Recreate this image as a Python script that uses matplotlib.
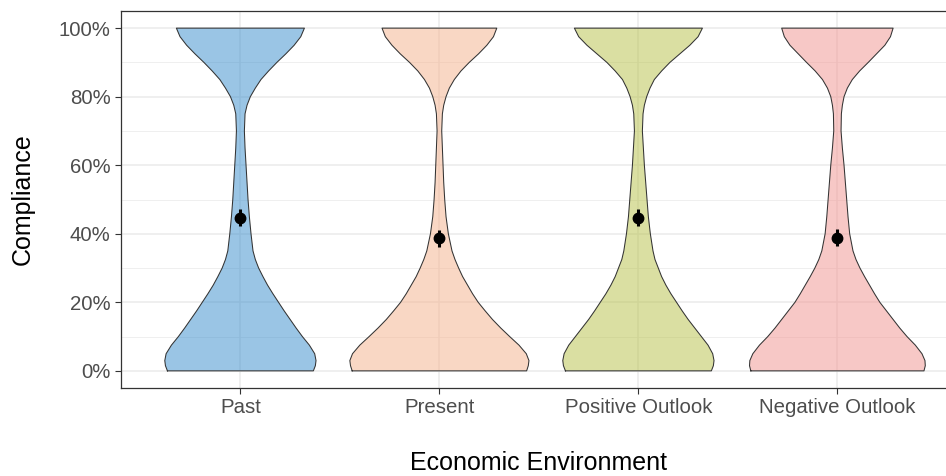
import numpy as np
import matplotlib
matplotlib.use("Agg")
import matplotlib.pyplot as plt
from matplotlib.ticker import MultipleLocator, FuncFormatter

plt.rcParams['font.family'] = ['Liberation Sans', 'DejaVu Sans']

# ---- data ----
categories = ["Past", "Present", "Positive Outlook", "Negative Outlook"]
levels = [0, 1.5, 3, 5, 7.5, 10, 12.5, 15, 17.5, 20, 22.5, 25, 27.5, 30, 32.5, 35,
          40, 45, 50, 55, 60, 65, 70, 75, 77.5, 80, 82.5, 85, 87.5, 90, 92.5, 95, 97.5, 100]
dens_past = [220, 226, 228, 224, 208, 187, 168, 150, 132, 115, 98, 82, 68, 55, 45, 38,
             32, 27, 23, 20, 17, 14, 12, 14, 20, 30, 45, 62, 85, 110, 137, 162, 182, 193]
dens_present = [263, 268, 270, 262, 240, 212, 185, 160, 138, 117, 100, 85, 70, 58, 47, 38,
                27, 20, 16, 13, 11, 9, 7, 9, 13, 20, 30, 45, 65, 90, 118, 143, 163, 173]
dens_positive = [220, 226, 228, 224, 210, 190, 170, 150, 132, 115, 98, 83, 70, 60, 50, 44,
                 36, 30, 26, 22, 18, 15, 12, 14, 18, 25, 35, 48, 70, 95, 125, 155, 180, 193]
dens_negative = [261, 265, 264, 255, 235, 210, 188, 168, 148, 128, 112, 97, 82, 68, 56, 47,
                 37, 32, 28, 24, 20, 15, 11, 12, 15, 20, 30, 45, 67, 93, 118, 143, 160, 168]
means = [44.7, 38.7, 44.7, 38.8]
ci = [2.4, 2.5, 2.4, 2.5]
yticks = [0, 20, 40, 60, 80, 100]

colors = ["#378DCD", "#F5B18B", "#B7C147", "#F1938F"]
densities = [dens_past, dens_present, dens_positive, dens_negative]

# ---- figure ----
W, H = 946, 476
fig = plt.figure(figsize=(W / 100, H / 100), dpi=100)
unit = 199.0  # px per category
ax_left = 121 / W
ax_w = 4.2 * unit / W
ax_bottom = (H - 388) / H
ax_h = 377 / H
ax = fig.add_axes([ax_left, ax_bottom, ax_w, ax_h])

ax.set_xlim(0.4, 4.6)
ax.set_ylim(-5, 105)

grid_c = "#EBEBEB"
ax.set_axisbelow(True)
ax.yaxis.set_minor_locator(MultipleLocator(10))
ax.set_yticks(yticks)
ax.set_xticks(range(1, len(categories) + 1))
ax.set_xticklabels(categories)
ax.yaxis.set_major_formatter(FuncFormatter(lambda v, p: f"{int(v)}%"))
ax.grid(which="major", color=grid_c, lw=1.1)
ax.grid(which="minor", axis="y", color=grid_c, lw=0.55)
ax.tick_params(which="minor", length=0)
ax.tick_params(which="major", length=4, width=0.8, color="#333333",
               labelcolor="#4D4D4D", labelsize=14.7, pad=3.5)
for s in ax.spines.values():
    s.set_color("#333333")
    s.set_linewidth(0.9)

ymax_all = max(max(d) for d in densities)
scale = 0.45 / ymax_all
lv = np.array(levels, dtype=float)
for i, (d, c) in enumerate(zip(densities, colors)):
    x0 = i + 1
    hw = np.array(d, dtype=float) * scale
    xs = np.concatenate([x0 - hw, (x0 + hw)[::-1]])
    ys = np.concatenate([lv, lv[::-1]])
    ax.fill(xs, ys, facecolor=c, alpha=0.5, edgecolor="none", zorder=2)
    ax.plot(np.append(xs, xs[0]), np.append(ys, ys[0]), color="#333333", lw=0.75, zorder=3)

xpos = np.arange(1, len(categories) + 1)
ax.errorbar(xpos, means, yerr=ci, fmt="o", color="black", ms=7.5,
            elinewidth=2.2, capsize=0, zorder=4)

ax.set_ylabel("Compliance", fontsize=18, color="black", labelpad=17)
ax.set_xlabel("Economic Environment", fontsize=18, color="black", labelpad=24)

fig.savefig("out.png", dpi=100)
